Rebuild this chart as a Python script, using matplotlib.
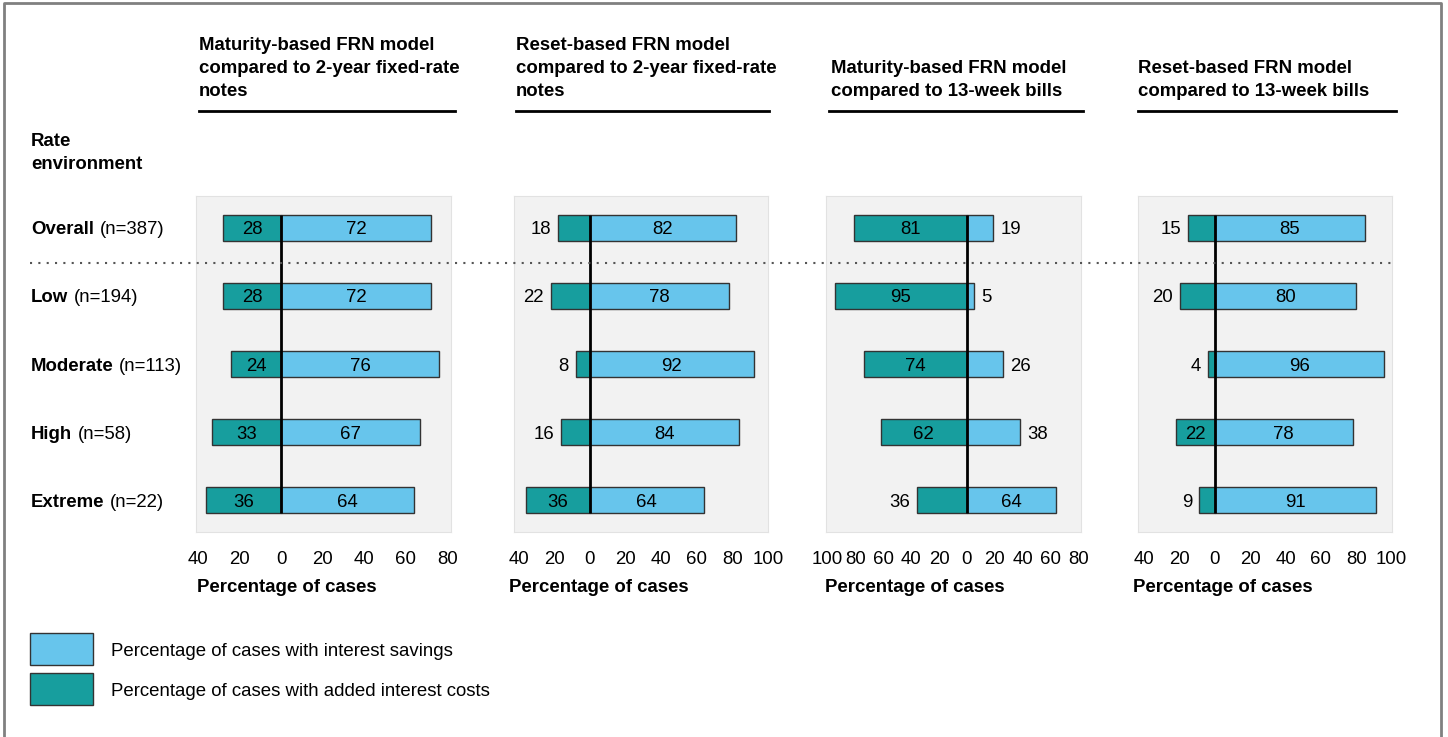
import matplotlib
matplotlib.use("Agg")
from matplotlib import pyplot as plt
from matplotlib import transforms
from matplotlib.lines import Line2D
from matplotlib.patches import Rectangle
import numpy as np

plt.rcParams['font.family'] = ['Liberation Sans', 'DejaVu Sans']

# datos
rows = ["Overall", "Low", "Moderate", "High", "Extreme"]
row_n = ["(n=387)", "(n=194)", "(n=113)", "(n=58)", "(n=22)"]

titles = ["Maturity-based FRN model\ncompared to 2-year fixed-rate\nnotes",
          "Reset-based FRN model\ncompared to 2-year fixed-rate\nnotes",
          "Maturity-based FRN model\ncompared to 13-week bills",
          "Reset-based FRN model\ncompared to 13-week bills"]

costs_mat_2y = [28, 28, 24, 33, 36]
savings_mat_2y = [72, 72, 76, 67, 64]
costs_res_2y = [18, 22, 8, 16, 36]
savings_res_2y = [82, 78, 92, 84, 64]
costs_mat_13w = [81, 95, 74, 62, 36]
savings_mat_13w = [19, 5, 26, 38, 64]
costs_res_13w = [15, 20, 4, 22, 9]
savings_res_13w = [85, 80, 96, 78, 91]

costs = [costs_mat_2y, costs_res_2y, costs_mat_13w, costs_res_13w]
savings = [savings_mat_2y, savings_res_2y, savings_mat_13w, savings_res_13w]

# etiquetas dentro (True) o fuera (False) de la barra
costs_in = [[True] * 5,
            [False, False, False, False, True],
            [True, True, True, True, False],
            [False, False, False, True, False]]
savings_in = [[True] * 5,
              [True] * 5,
              [False, False, False, False, True],
              [True] * 5]

ticks = [np.arange(-40, 81, 20), np.arange(-40, 101, 20),
         np.arange(-100, 81, 20), np.arange(-40, 101, 20)]

legend_labels = ["Percentage of cases with interest savings",
                 "Percentage of cases with added interest costs"]

# layout (pixeles)
W, H = 1448, 737
panel_px = [(196, 451), (514, 768), (826, 1081), (1138, 1392)]
xlims = [(-40.9, 81.7), (-42.7, 100.1), (-101.1, 81.8), (-43.6, 100.3)]
title_x = [199, 516, 831, 1138]
rule_px = [(199, 455), (516, 769), (829, 1083), (1138, 1396)]
xlabel_x = [197, 509, 825, 1133]
y_top, y_bot = 196, 532

c_sav = "#67C5EC"
c_cost = "#179E9E"
bg = "#F2F2F2"
bar_h = 0.37
fs = 13.4
va_lab = "center_baseline"

fig = plt.figure(figsize=(W / 100, H / 100), dpi=100)
y = np.arange(len(rows))

axes = []
for k in range(4):
    x0, x1 = panel_px[k]
    ax = fig.add_axes([x0 / W, 1 - y_bot / H, (x1 - x0) / W, (y_bot - y_top) / H])
    ax.set_facecolor(bg)
    for s in ax.spines.values():
        s.set_color("#E2E2E2")
    ax.barh(y, [-c for c in costs[k]], height=bar_h, color=c_cost, edgecolor="#333333", linewidth=1)
    ax.barh(y, savings[k], height=bar_h, color=c_sav, edgecolor="#333333", linewidth=1)
    ax.vlines(0, -bar_h / 2, len(rows) - 1 + bar_h / 2, color="black", lw=2, zorder=3)
    for i in range(len(rows)):
        c = costs[k][i]
        sv = savings[k][i]
        if costs_in[k][i]:
            ax.text(-c / 2, i, str(c), ha="center", va=va_lab, fontsize=fs)
        else:
            ax.annotate(str(c), (-c, i), xytext=(-5, 0), textcoords="offset points",
                        ha="right", va=va_lab, fontsize=fs)
        if savings_in[k][i]:
            ax.text(sv / 2, i, str(sv), ha="center", va=va_lab, fontsize=fs)
        else:
            ax.annotate(str(sv), (sv, i), xytext=(5, 0), textcoords="offset points",
                        ha="left", va=va_lab, fontsize=fs)
    ax.set_xlim(*xlims[k])
    ax.set_ylim(len(rows) - 1 + 0.47, -0.47)
    ax.set_yticks([])
    ax.set_xticks(ticks[k])
    ax.set_xticklabels([str(abs(t)) for t in ticks[k]], fontsize=fs)
    ax.tick_params(axis="x", length=0, pad=13.5)
    fig.text(xlabel_x[k] / W, 1 - 588 / H, "Percentage of cases", fontweight="bold",
             fontsize=fs, ha="left", va="center")
    fig.text(title_x[k] / W, 1 - 100 / H, titles[k], fontweight="bold", fontsize=fs,
             ha="left", va="bottom", linespacing=1.45)
    fig.add_artist(Line2D([rule_px[k][0] / W, rule_px[k][1] / W], [1 - 111 / H] * 2,
                          color="black", lw=2))
    axes.append(ax)

# etiquetas de filas
tr = transforms.blended_transform_factory(fig.transFigure, axes[0].transData)
for i in range(len(rows)):
    t = fig.text(31 / W, i, rows[i], transform=tr, fontweight="bold", fontsize=fs,
                 ha="left", va=va_lab)
    axes[0].annotate(row_n[i], xy=(1, 0), xycoords=t, xytext=(4, 0),
                     textcoords="offset points", ha="left", va="bottom",
                     fontsize=fs, annotation_clip=False)

fig.text(31 / W, 1 - 153 / H, "Rate\nenvironment", fontweight="bold", fontsize=fs,
         ha="left", va="center", linespacing=1.45)

# linea punteada
fig.add_artist(Line2D([30 / W, 1395 / W], [1 - 263 / H] * 2, color="#555555", lw=1.5,
                      linestyle=(0, (1, 3))))

# marco
fig.add_artist(Line2D([4 / W, 4 / W, 1441 / W, 1441 / W], [0, 1 - 3 / H, 1 - 3 / H, 0],
                      color="#808080", lw=2))

# leyenda
for j, (lab, col) in enumerate(zip(legend_labels, [c_sav, c_cost])):
    top = 633 + 40 * j
    fig.add_artist(Rectangle((30 / W, 1 - (top + 32) / H), 63 / W, 32 / H,
                             facecolor=col, edgecolor="#333333", lw=1,
                             transform=fig.transFigure))
    fig.text(111 / W, 1 - (top + 19) / H, lab, fontsize=fs, ha="left", va="center")

fig.savefig("out.png", dpi=100)
